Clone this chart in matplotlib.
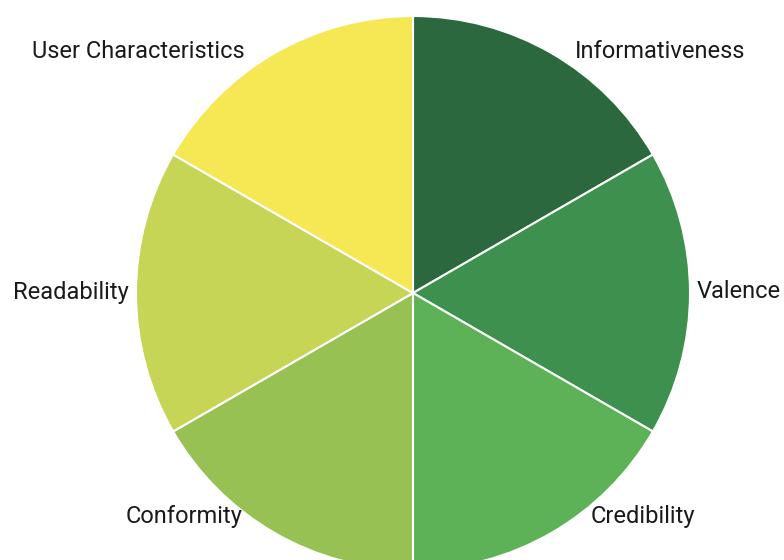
import matplotlib
matplotlib.use("Agg")
import matplotlib.pyplot as plt

# slices, clockwise from 12 o'clock
labels = ["Informativeness", "Valence", "Credibility",
          "Conformity", "Readability", "User Characteristics"]
values = [1, 1, 1, 1, 1, 1]
colors = ["#2b683d", "#3e904e", "#5db157", "#97c153", "#c6d556", "#f6e854"]

# label placement (pixels, from top-left) and alignment
label_pos = {
    "Informativeness": (660, 52, "center"),
    "Valence": (697, 292, "left"),
    "Credibility": (643, 517, "center"),
    "Conformity": (184, 517, "center"),
    "Readability": (129, 293, "right"),
    "User Characteristics": (138, 52, "center"),
}

plt.rcParams['font.family'] = ['Liberation Sans Narrow', 'Roboto', 'DejaVu Sans']

W, H = 784, 560
fig = plt.figure(figsize=(W / 100, H / 100), dpi=100)
ax = fig.add_axes([0, 0, 1, 1])
ax.set_xlim(0, W)
ax.set_ylim(0, H)
ax.axis("off")

ax.pie(values, colors=colors, startangle=90, counterclock=False,
       center=(413, H - 293), radius=277, frame=True,
       wedgeprops=dict(edgecolor="white", linewidth=1.5))
ax.set_xlim(0, W)
ax.set_ylim(0, H)
ax.axis("off")

for name in labels:
    x, y, ha = label_pos[name]
    ax.text(x, H - y, name, ha=ha, va="center", fontsize=17, color="#1a1a1a")

fig.savefig("out.png", dpi=100)
